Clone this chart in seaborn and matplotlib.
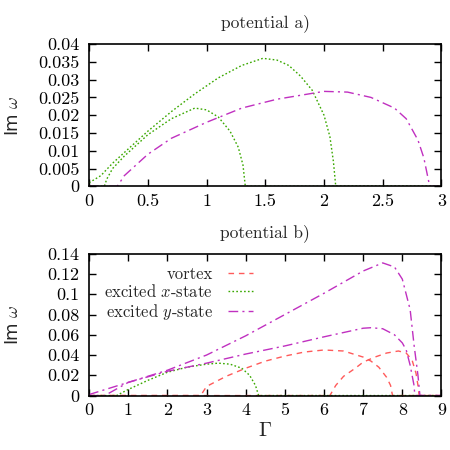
import numpy as np
import pandas as pd
import matplotlib
matplotlib.use("Agg")
import matplotlib.pyplot as plt
import seaborn as sns
from matplotlib.ticker import FuncFormatter

# ---- data: potential a) ----
a_x1_x = [0, 0.1, 0.2, 0.3, 0.5, 0.7, 0.9, 1.1, 1.3, 1.48, 1.6, 1.7, 1.8, 1.9, 2.0, 2.05, 2.08, 2.1, 3.0]
a_x1_y = [0.001, 0.003, 0.0065, 0.0095, 0.0155, 0.021, 0.026, 0.0305, 0.034, 0.036, 0.0355, 0.034, 0.031, 0.027, 0.02, 0.014, 0.007, 0.0, 0.0]
a_x2_x = [0, 0.13, 0.15, 0.2, 0.3, 0.5, 0.7, 0.9, 1.0, 1.1, 1.2, 1.27, 1.31, 1.33, 3.0]
a_x2_y = [0, 0.0, 0.002, 0.005, 0.0085, 0.0145, 0.019, 0.022, 0.0215, 0.0195, 0.0155, 0.011, 0.006, 0.0, 0.0]
a_y1_x = [0, 0.24, 0.3, 0.5, 0.7, 1.0, 1.3, 1.6, 2.0, 2.2, 2.4, 2.6, 2.7, 2.8, 2.85, 2.9, 3.0]
a_y1_y = [0, 0.0, 0.003, 0.009, 0.0135, 0.018, 0.022, 0.0245, 0.0267, 0.0265, 0.025, 0.022, 0.019, 0.013, 0.008, 0.0, 0.0]

# ---- data: potential b) ----
b_v1_x = [0, 2.85, 3.0, 3.5, 4.0, 4.5, 5.0, 5.5, 6.0, 6.5, 7.0, 7.2, 7.4, 7.6, 7.7, 7.75, 9.0]
b_v1_y = [0, 0.0, 0.009, 0.019, 0.027, 0.034, 0.039, 0.043, 0.045, 0.044, 0.038, 0.034, 0.028, 0.018, 0.01, 0.0, 0.0]
b_v2_x = [0, 6.15, 6.3, 6.5, 6.8, 7.0, 7.3, 7.6, 7.9, 8.1, 8.25, 8.35, 8.4, 8.43, 9.0]
b_v2_y = [0, 0.0, 0.01, 0.019, 0.027, 0.033, 0.038, 0.042, 0.044, 0.042, 0.035, 0.022, 0.01, 0.0, 0.0]
b_x1_x = [0, 0.7, 1.0, 1.5, 2.0, 2.5, 3.0, 3.3, 3.6, 3.9, 4.1, 4.25, 4.33, 9.0]
b_x1_y = [0, 0.0, 0.006, 0.015, 0.023, 0.028, 0.031, 0.032, 0.031, 0.027, 0.02, 0.01, 0.0, 0.0]
b_y1_x = [0, 1.0, 2.0, 3.0, 4.0, 5.0, 6.0, 7.0, 7.5, 7.8, 8.0, 8.2, 8.3, 8.4, 8.45, 9.0]
b_y1_y = [0.001, 0.013, 0.025, 0.040, 0.059, 0.080, 0.101, 0.123, 0.131, 0.127, 0.115, 0.085, 0.05, 0.02, 0.0, 0.0]
b_y2_x = [0, 0.4, 1.0, 2.0, 3.0, 4.0, 5.0, 6.0, 7.0, 7.2, 7.5, 7.8, 8.0, 8.1, 8.2, 8.3, 8.32, 9.0]
b_y2_y = [0, 0.0, 0.013, 0.024, 0.032, 0.041, 0.049, 0.058, 0.0665, 0.067, 0.066, 0.06, 0.052, 0.045, 0.03, 0.01, 0.0, 0.0]

labels = ["vortex", "excited $x$-state", "excited $y$-state"]
a_yticks = [0, 0.005, 0.01, 0.015, 0.02, 0.025, 0.03, 0.035, 0.04]
a_xticks = [0, 0.5, 1, 1.5, 2, 2.5, 3]
b_yticks = [0, 0.02, 0.04, 0.06, 0.08, 0.1, 0.12, 0.14]
b_xticks = list(range(0, 10))

sns.set_style("ticks")
plt.rcParams["font.family"] = ["cmr10", "DejaVu Serif"]
plt.rcParams["mathtext.fontset"] = "cm"
plt.rcParams["axes.formatter.use_mathtext"] = True
plt.rcParams["font.size"] = 12

RED = "#ff5a5a"
GREEN = "#3aa800"
MAG = "#c030c0"
styles = {
    "vortex": dict(color=RED, dashes=(4, 3.5)),
    "x": dict(color=GREEN, dashes=(1.2, 1.6)),
    "y": dict(color=MAG, dashes=(7, 3, 1.5, 3)),
}

fig = plt.figure(figsize=(4.5, 4.5), dpi=100)
ax1 = fig.add_axes([0.198, 0.586, 0.783, 0.316])
ax2 = fig.add_axes([0.198, 0.121, 0.783, 0.315])

def draw(ax, xs, ys, kind, label=None):
    df = pd.DataFrame({"x": xs, "y": ys})
    st = styles[kind]
    sns.lineplot(data=df, x="x", y="y", ax=ax, color=st["color"], lw=1.0,
                 label=label, estimator=None, sort=False)
    ax.lines[-1].set_dashes(st["dashes"])

draw(ax1, a_x1_x, a_x1_y, "x")
draw(ax1, a_x2_x, a_x2_y, "x")
draw(ax1, a_y1_x, a_y1_y, "y")

draw(ax2, b_v1_x, b_v1_y, "vortex", labels[0])
draw(ax2, b_v2_x, b_v2_y, "vortex")
draw(ax2, b_x1_x, b_x1_y, "x", labels[1])
draw(ax2, b_y1_x, b_y1_y, "y", labels[2])
draw(ax2, b_y2_x, b_y2_y, "y")

fmt = FuncFormatter(lambda v, p: "{:g}".format(v))
for ax, xt, yt, xl, yl, title in [
    (ax1, a_xticks, a_yticks, (0, 3), (0, 0.04), "potential a)"),
    (ax2, b_xticks, b_yticks, (0, 9), (0, 0.14), "potential b)"),
]:
    ax.set_xlim(*xl)
    ax.set_ylim(*yl)
    ax.set_xticks(xt)
    ax.set_yticks(yt)
    ax.xaxis.set_major_formatter(fmt)
    ax.yaxis.set_major_formatter(fmt)
    ax.tick_params(direction="in", length=5, width=1, top=True, right=True,
                   labelsize=13, colors="black")
    ax.tick_params(axis="y", pad=7)
    ax.tick_params(axis="x", pad=5)
    for s in ax.spines.values():
        s.set_linewidth(1.2)
        s.set_color("black")
        s.set_visible(True)
    ax.set_title(title, fontsize=12.5, pad=12)
    ax.set_ylabel("Im $\\omega$", fontsize=13, family="DejaVu Sans")
    ax.yaxis.set_label_coords(-0.19, 0.5)
    ax.set_xlabel("")

ax2.set_xlabel("$\\Gamma$", fontsize=15, labelpad=3)

leg = ax2.legend(loc="upper right", bbox_to_anchor=(0.465, 0.91), frameon=False,
                 markerfirst=False, handlelength=1.5, fontsize=12,
                 borderpad=0, borderaxespad=0, labelspacing=0.08, handletextpad=0.9)

fig.savefig("out.png", dpi=100)
